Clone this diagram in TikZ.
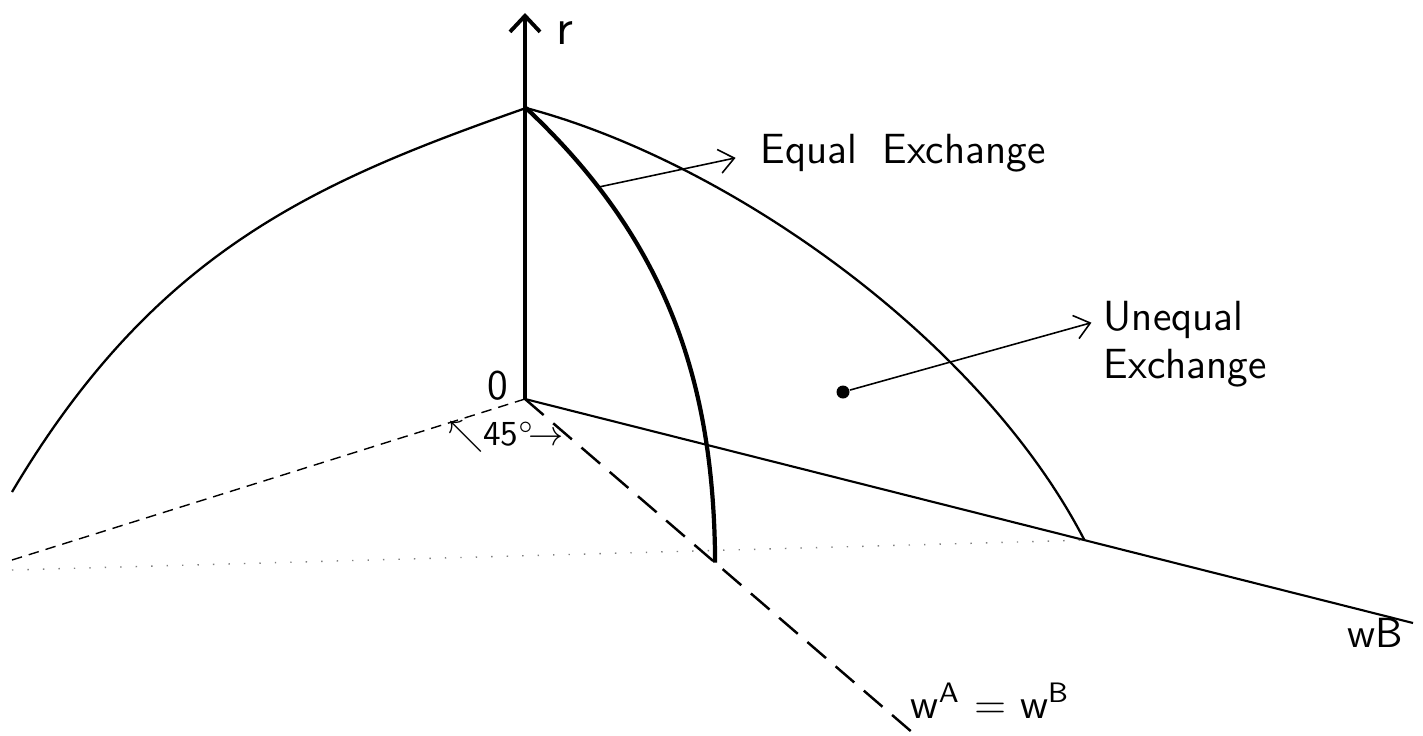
\documentclass[tikz,border=0pt]{standalone}
\usepackage{xcolor}
\usepackage{amsmath,amssymb}
\usepackage{tikz}
\usetikzlibrary{calc,arrows.meta}

\begin{document}
\begin{tikzpicture}[
      ax/.style={line width=0.6pt},
      crv/.style={line width=0.65pt},
      lbl/.style={font=\sffamily\large,inner sep=0pt},
      tip/.style={-{Straight Barb[length=1.5mm,width=2.4mm]}}]
    \useasboundingbox (0,0) rectangle (14.23,7.35);
    \coordinate (O) at (5.25,3.36);
    \coordinate (rtop) at (5.25,7.22);
    \coordinate (wAend) at (0.12,1.75);
    \coordinate (wBend) at (14.13,1.12);
    \coordinate (diag) at (9.13,0.02);
    \coordinate (peak) at (5.26,6.27);
    \coordinate (lend) at (0.12,2.43);
    \coordinate (mend) at ($(O)!0.49!(diag)$);
    \coordinate (rend) at ($(O)!0.63!(wBend)$);
    % axes
    \draw[line width=1.1pt,-{Straight Barb[length=1.6mm,width=3mm]}] (O) -- (rtop);
    \draw[ax] (O) -- (wBend);
    \draw[line width=0.4pt,densely dashed] (O) -- (wAend);
    \draw[line width=0.7pt,dash pattern=on 7pt off 3.6pt] (O) -- (diag);
    \draw[gray,line width=0.4pt,loosely dotted] (0.12,1.65) -- (rend);
    % frontier curves
    \draw[crv] (lend) .. controls (1.55,4.84) and (3.15,5.53) .. (peak);
    \draw[crv] (peak) .. controls (7.27,5.74) and (9.80,3.97) .. (rend);
    \draw[line width=1.2pt] (peak) .. controls (6.72,4.90) and (7.14,3.45) .. (mend)
      coordinate[pos=0.19] (eqpt);
    % labels
    \node[lbl,font=\sffamily\Large] (rlab) at (5.65,7.02) {r};
    \node[lbl] (olab) at (4.98,3.49) {0};
    \node[lbl,font=\sffamily] (anglab) at (5.06,2.98) {$\nwarrow$45$^{\circ}$$\!\rightarrow$};
    \node[lbl] (wblab) at (13.75,1.02) {wB};
    \node[lbl,anchor=base west] (diaglab) at (9.10,0.17)
      {w\textsuperscript{A} = w\textsuperscript{B}};
    \node[lbl,anchor=base west] (eqlab) at (7.60,5.72) {Equal\hspace{0.6em}Exchange};
    \foreach \t/\y in {Unequal/4.05,Exchange/3.57} {
      \node[lbl,anchor=base west] (\t) at (11.03,\y) {\t};
    }
    \node[circle,fill,inner sep=0pt,minimum size=1.3mm] (dot) at (8.43,3.43) {};
    \draw[line width=0.45pt,tip,shorten >=2.5mm] (eqpt) -- (eqlab.west);
    \draw[line width=0.45pt,tip,shorten >=1.2mm] (dot) -- (Unequal.west);
\end{tikzpicture}
\end{document}
